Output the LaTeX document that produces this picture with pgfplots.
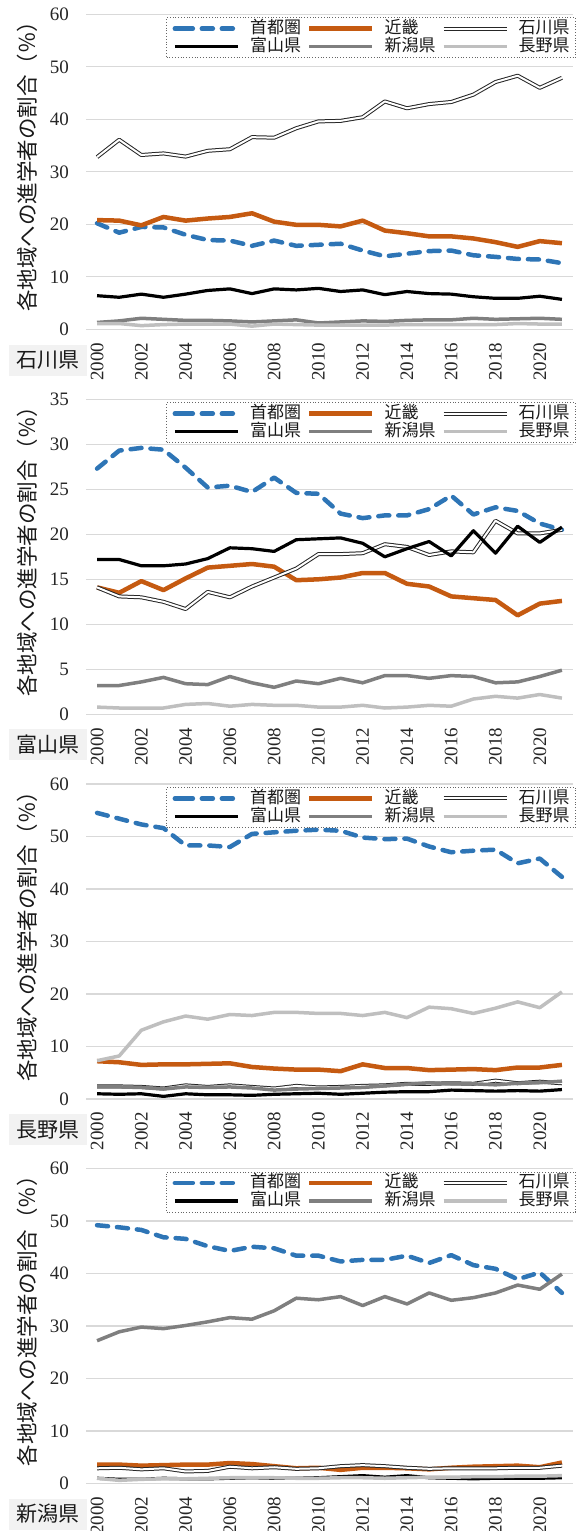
\documentclass[border=0pt]{standalone}
\usepackage{fontspec}
\setmainfont{Liberation Serif}
\newfontfamily\jp{Noto Sans CJK JP}
\usepackage{pgfplots}
\pgfplotsset{compat=1.18}
\usepackage{pgfplotstable}

\definecolor{cblue}{HTML}{2E75B6}
\definecolor{corange}{HTML}{C55A11}
\definecolor{cgray}{HTML}{7F7F7F}
\definecolor{clgray}{HTML}{BFBFBF}
\definecolor{cgrid}{HTML}{D9D9D9}
\definecolor{cbox}{HTML}{F2F2F2}

% columns: year, shuto, kinki, ishikawa, toyama, niigata, nagano
\pgfplotstableread{
year a b c d e f
2000 20.2 20.8 32.8 6.4 1.3 1.1
2001 18.4 20.7 36.1 6.1 1.6 1.1
2002 19.5 19.8 33.2 6.7 2.1 0.7
2003 19.4 21.4 33.5 6.1 1.9 0.9
2004 18.0 20.7 32.9 6.7 1.7 1.0
2005 17.0 21.1 34.0 7.4 1.7 1.0
2006 16.9 21.4 34.3 7.7 1.6 1.0
2007 15.9 22.1 36.6 6.8 1.4 0.6
2008 16.9 20.5 36.5 7.7 1.6 1.0
2009 15.9 19.9 38.3 7.5 1.8 0.9
2010 16.1 19.9 39.6 7.8 1.2 0.8
2011 16.3 19.6 39.7 7.2 1.4 0.8
2012 15.0 20.7 40.4 7.5 1.6 0.8
2013 13.9 18.8 43.4 6.6 1.5 0.8
2014 14.4 18.3 42.1 7.2 1.7 0.9
2015 14.9 17.7 42.9 6.8 1.8 0.9
2016 15.0 17.7 43.3 6.7 1.8 0.9
2017 14.1 17.3 44.7 6.2 2.1 0.9
2018 13.8 16.6 47.1 5.9 1.9 0.9
2019 13.4 15.7 48.3 5.9 2.0 1.1
2020 13.3 16.8 46.0 6.3 2.1 1.0
2021 12.6 16.4 47.9 5.7 1.9 1.0
}\tA
\pgfplotstableread{
year a b c d e f
2000 27.3 14.1 14.1 17.2 3.2 0.8
2001 29.3 13.5 13.1 17.2 3.2 0.7
2002 29.6 14.8 13.0 16.5 3.6 0.7
2003 29.4 13.8 12.5 16.5 4.1 0.7
2004 27.4 15.1 11.7 16.7 3.4 1.1
2005 25.2 16.3 13.6 17.3 3.3 1.2
2006 25.4 16.5 13.0 18.5 4.2 0.9
2007 24.7 16.7 14.2 18.4 3.5 1.1
2008 26.3 16.4 15.2 18.1 3.0 1.0
2009 24.6 14.9 16.2 19.4 3.7 1.0
2010 24.5 15.0 17.8 19.5 3.4 0.8
2011 22.3 15.2 17.8 19.6 4.0 0.8
2012 21.8 15.7 17.9 19.0 3.5 1.0
2013 22.1 15.7 18.9 17.5 4.3 0.7
2014 22.1 14.5 18.6 18.4 4.3 0.8
2015 22.8 14.2 17.7 19.2 4.0 1.0
2016 24.3 13.1 18.1 17.6 4.3 0.9
2017 22.2 12.9 18.0 20.4 4.2 1.7
2018 23.0 12.7 21.5 17.9 3.5 2.0
2019 22.6 11.0 20.1 20.9 3.6 1.8
2020 21.2 12.3 20.1 19.1 4.2 2.2
2021 20.5 12.6 20.5 20.8 4.9 1.8
}\tB
\pgfplotstableread{
year a b c d e f
2000 54.5 7.2 2.4 1.0 2.3 7.3
2001 53.4 7.0 2.4 0.9 2.3 8.2
2002 52.3 6.5 2.3 1.0 2.2 13.1
2003 51.6 6.6 2.0 0.5 1.9 14.7
2004 48.3 6.6 2.6 1.0 2.3 15.8
2005 48.3 6.7 2.3 0.8 2.2 15.2
2006 48.0 6.8 2.6 0.8 2.3 16.1
2007 50.5 6.1 2.3 0.7 2.1 15.9
2008 50.8 5.8 2.0 0.9 1.7 16.5
2009 51.1 5.6 2.5 1.0 1.9 16.5
2010 51.3 5.6 2.2 1.1 2.0 16.3
2011 51.1 5.3 2.3 0.9 2.1 16.3
2012 49.8 6.6 2.5 1.1 2.2 15.9
2013 49.5 5.9 2.6 1.3 2.5 16.5
2014 49.6 5.9 2.9 1.4 2.8 15.5
2015 48.1 5.5 2.9 1.4 3.1 17.5
2016 47.0 5.6 3.0 1.7 2.9 17.2
2017 47.3 5.7 2.9 1.6 2.9 16.3
2018 47.5 5.5 3.5 1.5 2.7 17.3
2019 44.9 6.0 3.0 1.6 3.0 18.5
2020 45.8 6.0 3.3 1.5 3.1 17.4
2021 42.3 6.5 3.0 1.8 3.4 20.4
}\tC
\pgfplotstableread{
year a b c d e f
2000 49.2 3.6 2.9 1.0 27.2 1.0
2001 48.8 3.6 3.0 0.8 28.9 0.6
2002 48.3 3.4 2.7 0.8 29.8 0.8
2003 46.9 3.5 2.9 1.0 29.5 0.9
2004 46.6 3.6 2.3 0.9 30.1 0.9
2005 45.2 3.6 2.4 0.9 30.8 1.0
2006 44.3 3.9 3.2 1.0 31.6 1.1
2007 45.1 3.7 2.9 1.1 31.3 1.1
2008 44.8 3.3 3.1 1.0 32.9 1.1
2009 43.4 2.9 2.8 1.0 35.3 1.0
2010 43.4 3.0 2.9 1.1 35.0 1.0
2011 42.3 2.6 3.3 1.3 35.6 1.1
2012 42.6 3.0 3.5 1.5 33.9 1.1
2013 42.6 3.0 3.3 1.2 35.6 1.0
2014 43.4 2.9 3.0 1.5 34.2 1.1
2015 42.0 2.7 2.8 1.1 36.3 1.2
2016 43.5 3.0 2.9 1.0 34.9 1.2
2017 41.6 3.2 2.9 0.9 35.4 1.3
2018 40.9 3.3 2.9 1.0 36.3 1.3
2019 38.9 3.4 3.0 1.0 37.8 1.4
2020 40.2 3.1 3.0 1.0 37.0 1.4
2021 36.3 4.0 3.4 1.1 39.9 1.5
}\tD

\pgfplotsset{
  panel/.style={
    scale only axis, width=487pt, height=315pt,
    xmin=1999.5, xmax=2021.5, ymin=0,
    xtick={2000,2002,...,2020},
    axis line style={draw=none},
    major tick length=0pt,
    ymajorgrids, grid style={draw=cgrid, line width=1.2pt, solid},
    no marks,
    /pgf/number format/assume math mode=true,
    /pgf/number format/1000 sep={},
    tick label style={font=\fontsize{19}{19}\selectfont, text=black!85},
    yticklabel style={inner sep=0pt, anchor=east, xshift=-17pt},
    xticklabel style={rotate=90, anchor=east, inner sep=0pt},
    xticklabel shift=13pt,
    ylabel={各地域への進学者の割合（％）},
    every axis y label/.style={at={(axis description cs:-0.1201,0.533)}, rotate=90, anchor=center, font=\jp\fontsize{21.5}{21.5}\selectfont, text=black!90},
    legend columns=3,
    legend cell align=left,
    legend style={at={(rel axis cs:1,1)}, anchor=north east, xshift=3pt, yshift=-3pt,
      draw=black!60, dotted, line width=0.8pt, fill=white,
      inner xsep=6pt, inner ysep=2pt,
      font=\jp\fontsize{17}{17}\selectfont, text=black!90,
      nodes={inner xsep=0pt, inner ysep=1.5pt, text height=12.5pt, text depth=2.5pt},
      column sep=0pt,
      /tikz/every odd column/.append style={column sep=10pt},
      /tikz/every even column/.append style={column sep=6pt}},
    legend image code/.code={\path (0pt,0pt) -- (7pt,0pt); \draw (7pt,0pt) -- (63pt,0pt);},
  },
  sA/.style={cblue, line width=4.5pt, dash pattern=on 11pt off 9pt, line cap=round, line join=round},
  sB/.style={corange, solid, line width=4.5pt, line join=round},
  sC/.style={black!85, solid, line width=1pt, double=white, double distance=2pt, line join=round},
  sD/.style={black, solid, line width=3.2pt, line join=round},
  sE/.style={cgray, solid, line width=3.5pt, line join=round},
  sF/.style={clgray, solid, line width=3.5pt, line join=round},
}

\newcommand{\panelplots}[1]{%
  \addplot[sA] table[x=year,y=a]{#1};
  \addplot[sB] table[x=year,y=b]{#1};
  \addplot[sC] table[x=year,y=c]{#1};
  \addplot[sD] table[x=year,y=d]{#1};
  \addplot[sE] table[x=year,y=e]{#1};
  \addplot[sF] table[x=year,y=f]{#1};
  \legend{首都圏,近畿,石川県,富山県,新潟県,長野県}
}

\begin{document}
\begin{tikzpicture}
\useasboundingbox (0pt,0pt) rectangle (582pt,-1531pt);

\begin{axis}[panel, at={(86pt,-329.3pt)}, anchor=south west, ymax=60, ytick={0,10,...,60}]
\panelplots{\tA}
\end{axis}
\node[fill=cbox, font=\jp\fontsize{21}{21}\selectfont, text=black!90, minimum width=78pt, minimum height=31pt, inner sep=0pt] at (48pt,-360pt) {石川県};

\begin{axis}[panel, at={(86pt,-714.3pt)}, anchor=south west, ymax=35, ytick={0,5,...,35}]
\panelplots{\tB}
\end{axis}
\node[fill=cbox, font=\jp\fontsize{21}{21}\selectfont, text=black!90, minimum width=78pt, minimum height=31pt, inner sep=0pt] at (48pt,-744.8pt) {富山県};

\begin{axis}[panel, at={(86pt,-1099pt)}, anchor=south west, ymax=60, ytick={0,10,...,60}]
\panelplots{\tC}
\end{axis}
\node[fill=cbox, font=\jp\fontsize{21}{21}\selectfont, text=black!90, minimum width=78pt, minimum height=31pt, inner sep=0pt] at (48pt,-1129.5pt) {長野県};

\begin{axis}[panel, at={(86pt,-1483.5pt)}, anchor=south west, ymax=60, ytick={0,10,...,60}]
\panelplots{\tD}
\end{axis}
\node[fill=cbox, font=\jp\fontsize{21}{21}\selectfont, text=black!90, minimum width=78pt, minimum height=31pt, inner sep=0pt] at (48pt,-1514pt) {新潟県};
\end{tikzpicture}
\end{document}
